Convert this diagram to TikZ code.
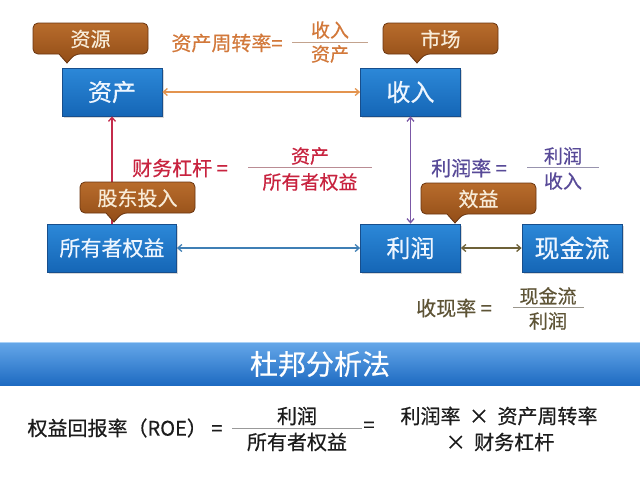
\documentclass[tikz,border=0pt]{standalone}
\usepackage{fontspec}
\setmainfont{Noto Sans CJK SC}[FakeBold=0.5]
\usetikzlibrary{arrows.meta,shadows}
\definecolor{boxtop}{HTML}{2C88D8}
\definecolor{boxbot}{HTML}{1566B6}
\definecolor{boxborder}{HTML}{174E8C}
\definecolor{boxtext}{HTML}{EEF6FF}
\definecolor{tagtop}{HTML}{B86C2C}
\definecolor{tagbot}{HTML}{924D17}
\definecolor{tagborder}{HTML}{6A3510}
\definecolor{tagtext}{HTML}{F8ECD8}
\definecolor{banTop}{HTML}{64A6E8}
\definecolor{banBot}{HTML}{1E6BC2}
\definecolor{banHi}{HTML}{A9D1F6}
\definecolor{cOrange}{HTML}{D2783A}
\definecolor{cRed}{HTML}{C8233F}
\definecolor{cPurple}{HTML}{584A98}
\definecolor{cOlive}{HTML}{5E5436}
\definecolor{aOrange}{HTML}{E3944F}
\definecolor{aRed}{HTML}{C42B4B}
\definecolor{aPurple}{HTML}{7B58A6}
\definecolor{aBlue}{HTML}{3F7FB5}
\definecolor{aOlive}{HTML}{6E6138}
\definecolor{cBlack}{HTML}{1C1C1C}
\newcommand\fsz[1]{\fontsize{#1}{#1}\selectfont}
\newcommand\mytag[4]{%
  \pgfmathsetmacro\tR{#2+115}\pgfmathsetmacro\tB{#3+31}\pgfmathsetmacro\tP{#2+34}%
  \draw[tagsty] (#2+20,#3) -- (\tR,#3) -- (\tR,\tB) -- (\tP+8,\tB) [sharp corners] -- (\tP,\tB+9) -- (\tP-8,\tB) [rounded corners=5pt] -- (#2,\tB) -- (#2,#3) -- cycle;
  \node[tagtxt] (#1) at (#2+57.5,#3+16) {#4};}
\begin{document}
\begin{tikzpicture}[x=1pt,y=-1pt,
  boxsty/.style={draw=boxborder, line width=0.8pt, top color=boxtop, bottom color=boxbot,
    text=boxtext, minimum height=48pt, minimum width=100pt, inner sep=0pt,
    font=\fsz{24}, drop shadow={shadow xshift=1.5pt, shadow yshift=-1.5pt, opacity=.3}},
  tagsty/.style={draw=tagborder, line width=0.8pt, top color=tagtop, bottom color=tagbot, rounded corners=5pt},
  tagtxt/.style={text=tagtext, font=\fsz{20}, inner sep=0pt},
  lbl/.style={font=\fsz{20}, inner sep=0pt},
  frc/.style={font=\fsz{19}, inner sep=0pt},
  arr/.style={line width=1.3pt, {Straight Barb[length=4pt,width=7pt]}-{Straight Barb[length=4pt,width=7pt]}},
  arrone/.style={line width=1.3pt, -{Straight Barb[length=4pt,width=7pt]}},
  bansty/.style={top color=banTop, bottom color=banBot, minimum width=640pt, minimum height=42pt,
    inner sep=0pt, text=white, font=\fsz{28}}
]
\useasboundingbox (0,0) rectangle (640,480);
\fill[white] (0,0) rectangle (640,480);

% boxes
\node[boxsty] (zc) at (112,92) {资产};
\node[boxsty] (sr) at (410.5,92) {收入};
\node[boxsty, minimum width=129pt, font=\fsz{21}] (oe) at (112,248) {所有者权益};
\node[boxsty] (lr) at (410.5,248) {利润};
\node[boxsty, font=\fsz{25}] (xj) at (572,248) {现金流};

% connectors
\draw[arr, aOrange] (zc) -- (sr);
\draw[arrone, aRed] (oe) -- (zc);
\draw[arr, aPurple] (sr) -- (lr);
\draw[arr, aBlue] (oe) -- (lr);
\draw[arr, aOlive] (lr) -- (xj);

% tags
\mytag{tagzy}{33}{23}{资源}
\mytag{tagsc}{383}{23}{市场}
\mytag{taggd}{80}{182}{股东投入}
\mytag{tagxy}{421}{183}{效益}

% formula 1
\node[lbl, text=cOrange] (f1l) at (227,43) {资产周转率=};
\node[frc, text=cOrange] (f1n) at (330,30) {收入};
\node[frc, text=cOrange] (f1d) at (330,54) {资产};
\coordinate (f1a) at (292,42); \coordinate (f1b) at (368,42);
\draw[cOrange!50!gray!70, line width=0.8pt] (f1a) -- (f1b);

% formula 2
\node[lbl, text=cRed] (f2l) at (180,168) {财务杠杆 =};
\node[frc, text=cRed] (f2n) at (310,156) {资产};
\node[frc, text=cRed] (f2d) at (310,182) {所有者权益};
\coordinate (f2a) at (248,167); \coordinate (f2b) at (372,167);
\draw[cRed!40!gray!70, line width=0.8pt] (f2a) -- (f2b);

% formula 3
\node[lbl, text=cPurple] (f3l) at (469,168) {利润率 =};
\node[frc, text=cPurple] (f3n) at (563,156) {利润};
\node[frc, text=cPurple] (f3d) at (563,181) {收入};
\coordinate (f3a) at (527,167); \coordinate (f3b) at (599,167);
\draw[cPurple!50!gray!70, line width=0.8pt] (f3a) -- (f3b);

% formula 4
\node[lbl, text=cOlive] (f4l) at (454,308) {收现率 =};
\node[frc, text=cOlive] (f4n) at (548,296) {现金流};
\node[frc, text=cOlive] (f4d) at (548,321) {利润};
\coordinate (f4a) at (513,307); \coordinate (f4b) at (584,307);
\draw[cOlive!50!gray!70, line width=0.8pt] (f4a) -- (f4b);

% banner
\node[bansty] (title) at (320,364) {杜邦分析法};
\draw[banHi, line width=1.2pt] (title.north west) -- (title.north east);

% bottom formula
\node[lbl, text=cBlack] (b1) at (125,428) {权益回报率（ROE） =};
\node[lbl, text=cBlack] (bn) at (297,416) {利润};
\node[lbl, text=cBlack] (bd) at (297,442) {所有者权益};
\coordinate (ba) at (232,428); \coordinate (bb) at (362,428);
\draw[gray!80, line width=0.8pt] (ba) -- (bb);
\node[lbl, text=cBlack] (beq) at (369,427) {=};
\node[lbl, text=cBlack] (br1) at (499,416) {利润率\hspace{4pt} × \hspace{4pt}资产周转率};
\node[lbl, text=cBlack] (br2) at (500,442) {× \hspace{4pt}财务杠杆};
\end{tikzpicture}
\end{document}
